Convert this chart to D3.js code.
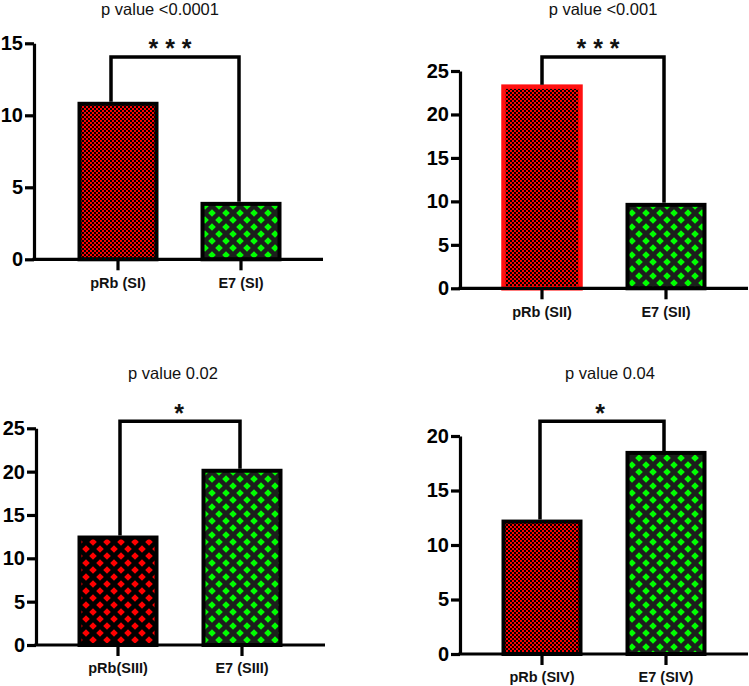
<!DOCTYPE html>
<html>
<head>
<meta charset="utf-8">
<script src="https://cdn.jsdelivr.net/npm/d3@7"></script>
<style>
  html, body { margin: 0; padding: 0; background: #fff; }
  svg { display: block; }
  text { font-family: "Liberation Sans", Arial, sans-serif; }
</style>
</head>
<body>
<svg id="chart" width="749" height="686"></svg>
<script>
// ---- data ----
const titles = ["p value <0.0001", "p value <0.001", "p value 0.02", "p value 0.04"];
const categories = [
  ["pRb (SI)", "E7 (SI)"],
  ["pRb (SII)", "E7 (SII)"],
  ["pRb(SIII)", "E7 (SIII)"],
  ["pRb (SIV)", "E7 (SIV)"]
];
const pRbValues = [10.8, 23.2, 12.4, 12.15];
const e7Values = [3.85, 9.6, 20.1, 18.45];
const bracketValues = [14.05, 26.6, 25.8, 21.35];
const significance = ["* * *", "* * *", "*", "*"];
const yMaxValues = [15, 25, 25, 20];
const yTickValues = [
  [0, 5, 10, 15],
  [0, 5, 10, 15, 20, 25],
  [0, 5, 10, 15, 20, 25],
  [0, 5, 10, 15, 20]
];

// ---- layout / style (not data) ----
const layout = [
  {axisX: 34,  y0: 259.3, yTop: 43.3, c1: 118, c2: 241, xEnd: 323, titleX: 160, titleY: 15,  starX: 170, starY: 42, legShift: -7},
  {axisX: 460, y0: 288.3, yTop: 71,   c1: 542, c2: 666, xEnd: 748, titleX: 603, titleY: 15,  starX: 598, starY: 42, legShift: 0},
  {axisX: 36,  y0: 645,   yTop: 428.3,c1: 118, c2: 242, xEnd: 325, titleX: 173, titleY: 379, starX: 179, starY: 407, legShift: 2},
  {axisX: 460, y0: 654,   yTop: 436,  c1: 542, c2: 666, xEnd: 748, titleX: 610, titleY: 379, starX: 600, starY: 407, legShift: -2}
];
const barStyles = [
  [{fill: "url(#checker)", stroke: "#000"}, {fill: "url(#diamondGreen)", stroke: "#000"}],
  [{fill: "url(#checker)", stroke: "#ff1010"}, {fill: "url(#diamondGreen)", stroke: "#000"}],
  [{fill: "url(#diamondRed)", stroke: "#000"}, {fill: "url(#diamondGreen)", stroke: "#000"}],
  [{fill: "url(#checker)", stroke: "#000"}, {fill: "url(#diamondGreen)", stroke: "#000"}]
];
const barOuterWidth = 81;
const barStroke = 4;

const svg = d3.select("#chart");
const defs = svg.append("defs");

// checkerboard red/black
const chk = defs.append("pattern").attr("id", "checker")
  .attr("patternUnits", "userSpaceOnUse").attr("width", 4).attr("height", 4);
chk.append("rect").attr("width", 4).attr("height", 4).attr("fill", "#000");
chk.append("rect").attr("x", 0).attr("y", 0).attr("width", 2).attr("height", 2).attr("fill", "#ff0000");
chk.append("rect").attr("x", 2).attr("y", 2).attr("width", 2).attr("height", 2).attr("fill", "#ff0000");

function diamondPattern(id, bg, fg) {
  const P = 14, h = 3.8;
  const p = defs.append("pattern").attr("id", id)
    .attr("patternUnits", "userSpaceOnUse").attr("width", P).attr("height", P)
    .attr("x", 2).attr("y", 3);
  p.append("rect").attr("width", P).attr("height", P).attr("fill", bg);
  const centers = [[P/2, P/2], [0, 0], [P, 0], [0, P], [P, P]];
  centers.forEach(([cx, cy]) => {
    p.append("path")
      .attr("d", `M${cx},${cy-h}L${cx+h},${cy}L${cx},${cy+h}L${cx-h},${cy}Z`)
      .attr("fill", fg);
  });
}
diamondPattern("diamondGreen", "#1c1f1c", "#00ff00");
diamondPattern("diamondRed", "#000000", "#ff0000");

titles.forEach((title, i) => {
  const L = layout[i];
  const g = svg.append("g");
  const y = d3.scaleLinear().domain([0, yMaxValues[i]]).range([L.y0, L.yTop]);
  const step = L.c2 - L.c1;
  const pi = 1 - barOuterWidth / step;
  const x = d3.scaleBand().domain(categories[i])
    .range([L.c1 - step / 2, L.c2 + step / 2])
    .paddingInner(pi).paddingOuter(pi / 2);

  const vals = [pRbValues[i], e7Values[i]];

  // bars
  g.selectAll("rect.bar").data(categories[i]).join("rect")
    .attr("class", "bar")
    .attr("x", d => x(d) + barStroke / 2)
    .attr("width", x.bandwidth() - barStroke)
    .attr("y", (d, j) => y(vals[j]))
    .attr("height", (d, j) => y(0) - y(vals[j]))
    .attr("fill", (d, j) => barStyles[i][j].fill)
    .attr("stroke", (d, j) => barStyles[i][j].stroke)
    .attr("stroke-width", (d, j) => i === 1 && j === 0 ? 4.5 : barStroke);

  // y axis
  const yAxis = d3.axisLeft(y).tickValues(yTickValues[i]).tickSize(9).tickSizeOuter(0).tickPadding(2);
  const ya = g.append("g").attr("transform", `translate(${L.axisX},0)`).call(yAxis);
  ya.select(".domain").attr("stroke", "#000").attr("stroke-width", 3.2);
  ya.selectAll(".tick line").attr("stroke", "#000").attr("stroke-width", 3.2);
  ya.selectAll(".tick text").attr("font-size", 20).attr("font-weight", "bold").attr("fill", "#000")
    .attr("font-family", '"Liberation Sans", Arial, sans-serif');

  // x axis
  const xAxis = d3.axisBottom(x).tickSize(11).tickSizeOuter(0).tickPadding(7);
  const xa = g.append("g").attr("transform", `translate(0,${L.y0})`).call(xAxis);
  xa.select(".domain").remove();
  xa.append("line").attr("x1", L.axisX - 1.6).attr("x2", L.xEnd).attr("y1", 0).attr("y2", 0)
    .attr("stroke", "#000").attr("stroke-width", 3.2);
  xa.selectAll(".tick line").attr("stroke", "#000").attr("stroke-width", 3.2);
  xa.selectAll(".tick text").attr("font-size", 14.5).attr("font-weight", "bold").attr("fill", "#111")
    .attr("font-family", '"Liberation Sans", Arial, sans-serif');

  // bracket
  const xc = d => x(d) + x.bandwidth() / 2;
  const [a, b] = categories[i];
  g.append("path")
    .attr("d", `M${xc(a) + L.legShift},${y(vals[0]) - 2}V${y(bracketValues[i])}H${xc(b) - 2}V${y(vals[1]) - 2}`)
    .attr("fill", "none").attr("stroke", "#000").attr("stroke-width", 3.5)
    .attr("stroke-linejoin", "miter");

  // stars
  g.append("text").attr("x", L.starX).attr("y", L.starY + 15)
    .attr("text-anchor", "middle").attr("font-size", 25).attr("font-weight", "bold")
    .attr("fill", "#111").text(significance[i]);

  // title
  g.append("text").attr("x", L.titleX).attr("y", L.titleY)
    .attr("text-anchor", "middle").attr("font-size", 16.5).attr("fill", "#111").text(title);
});
</script>
</body>
</html>
